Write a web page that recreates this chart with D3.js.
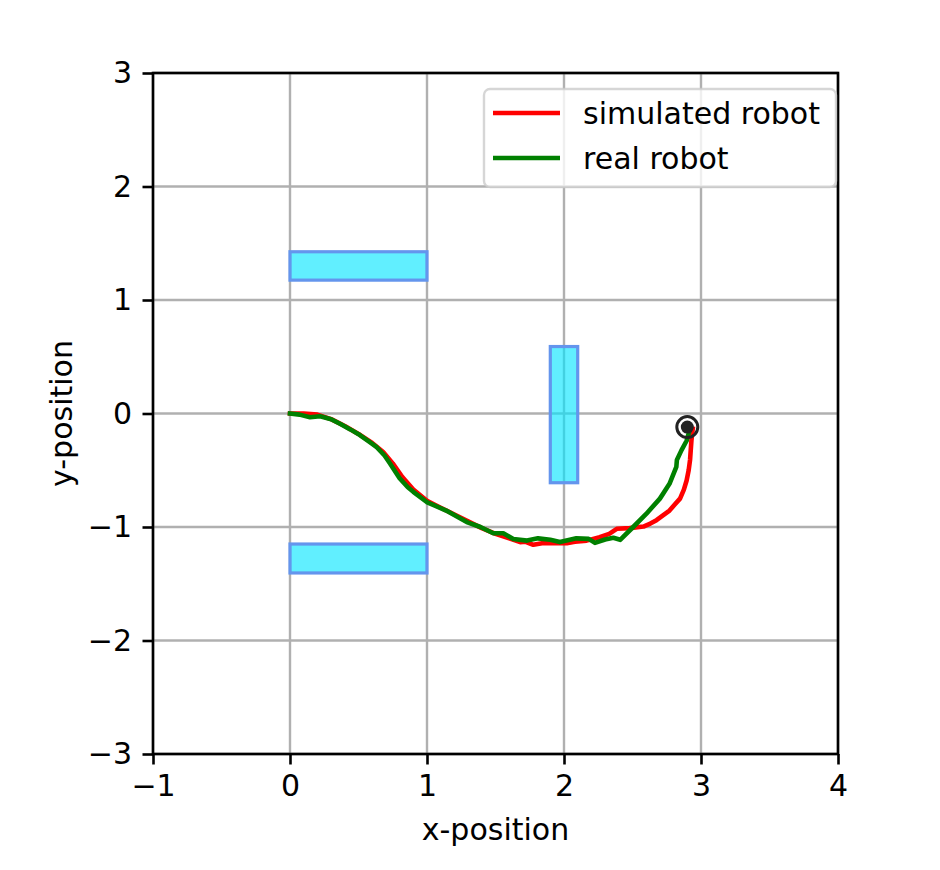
<!DOCTYPE html>
<html>
<head>
<meta charset="utf-8">
<script src="https://cdn.jsdelivr.net/npm/d3@7"></script>
<style>
html,body{margin:0;padding:0;background:#fff;}
svg{display:block;font-family:"DejaVu Sans",sans-serif;}
</style>
</head>
<body>
<svg id="chart" width="940" height="870"></svg>
<script>
// ---- data ----
const xTicks = [-1, 0, 1, 2, 3, 4];
const yTicks = [-3, -2, -1, 0, 1, 2, 3];
const seriesNames = ["simulated robot", "real robot"];
const simulated = [[0,0],[0.1,0.0],[0.2,-0.01],[0.3,-0.05],[0.4,-0.11],[0.5,-0.18],[0.6,-0.26],[0.68,-0.34],[0.75,-0.44],[0.82,-0.56],[0.9,-0.67],[1.0,-0.77],[1.1,-0.83],[1.2,-0.89],[1.3,-0.95],[1.4,-1.01],[1.5,-1.06],[1.6,-1.1],[1.68,-1.133],[1.72,-1.13],[1.776,-1.157],[1.85,-1.14],[1.9,-1.143],[1.96,-1.14],[2.02,-1.143],[2.08,-1.13],[2.165,-1.12],[2.26,-1.09],[2.33,-1.06],[2.385,-1.016],[2.48,-1.01],[2.58,-0.996],[2.63,-0.97],[2.675,-0.94],[2.72,-0.9],[2.77,-0.855],[2.81,-0.8],[2.847,-0.75],[2.875,-0.67],[2.895,-0.59],[2.91,-0.5],[2.92,-0.41],[2.93,-0.24],[2.935,-0.18],[2.94,-0.135]];
const real = [[0,0],[0.07,-0.01],[0.146,-0.033],[0.22,-0.024],[0.3,-0.05],[0.365,-0.09],[0.44,-0.14],[0.51,-0.19],[0.58,-0.25],[0.633,-0.297],[0.69,-0.37],[0.73,-0.44],[0.8,-0.57],[0.86,-0.65],[0.9,-0.69],[0.998,-0.78],[1.14,-0.855],[1.29,-0.957],[1.39,-1.0],[1.484,-1.055],[1.557,-1.055],[1.63,-1.105],[1.73,-1.12],[1.81,-1.10],[1.9,-1.113],[1.97,-1.133],[2.09,-1.10],[2.18,-1.105],[2.226,-1.14],[2.3,-1.11],[2.36,-1.095],[2.41,-1.113],[2.505,-1.0],[2.6,-0.885],[2.7,-0.75],[2.77,-0.62],[2.82,-0.47],[2.824,-0.41],[2.857,-0.325],[2.895,-0.24],[2.92,-0.135]];
// obstacles: [x0, y0, x1, y1]
const obstacles = [[0,1.175,1,1.425],[0,-1.405,1,-1.15],[1.9,-0.61,2.1,0.59]];
const target = [2.9, -0.12];

// ---- layout ----
const L = 153, R = 838, T = 73, B = 754;
const svg = d3.select("#chart");
const x = d3.scaleLinear().domain([-1, 4]).range([L, R]);
const y = d3.scaleLinear().domain([-3, 3]).range([B, T]);
const fmt = d => (d < 0 ? "\u2212" + Math.abs(d) : "" + d);

// grid
const grid = svg.append("g");
grid.selectAll("line.gx").data(xTicks).join("line")
  .attr("x1", d => x(d)).attr("x2", d => x(d)).attr("y1", T).attr("y2", B)
  .attr("stroke", "#b0b0b0").attr("stroke-width", 2.4);
grid.selectAll("line.gy").data(yTicks).join("line")
  .attr("y1", d => y(d)).attr("y2", d => y(d)).attr("x1", L).attr("x2", R)
  .attr("stroke", "#b0b0b0").attr("stroke-width", 2.4);

// obstacles
svg.append("g").selectAll("rect").data(obstacles).join("rect")
  .attr("x", d => x(d[0])).attr("y", d => y(d[3]))
  .attr("width", d => x(d[2]) - x(d[0])).attr("height", d => y(d[1]) - y(d[3]))
  .attr("fill", "#00e5ff").attr("fill-opacity", 0.62)
  .attr("stroke", "#6495ED").attr("stroke-width", 3.2);

// lines
const line = d3.line().x(d => x(d[0])).y(d => y(d[1]));
svg.append("path").datum(simulated).attr("d", line)
  .attr("fill", "none").attr("stroke", "#ff0000").attr("stroke-width", 4.6)
  .attr("stroke-linejoin", "round").attr("stroke-linecap", "square");
svg.append("path").datum(real).attr("d", line)
  .attr("fill", "none").attr("stroke", "#008000").attr("stroke-width", 4.6)
  .attr("stroke-linejoin", "round").attr("stroke-linecap", "square");

// target
svg.append("circle").attr("cx", x(target[0])).attr("cy", y(target[1])).attr("r", 10.5)
  .attr("fill", "none").attr("stroke", "#222").attr("stroke-width", 3);
svg.append("circle").attr("cx", x(target[0])).attr("cy", y(target[1])).attr("r", 6.5)
  .attr("fill", "#222");

// axes
const xAxis = d3.axisBottom(x).tickValues(xTicks).tickFormat(fmt).tickSize(10.5).tickPadding(10.5);
const yAxis = d3.axisLeft(y).tickValues(yTicks).tickFormat(fmt).tickSize(10.5).tickPadding(10.5);
const gx = svg.append("g").attr("transform", `translate(0,${B})`).call(xAxis);
const gy = svg.append("g").attr("transform", `translate(${L},0)`).call(yAxis);
[gx, gy].forEach(g => {
  g.select(".domain").remove();
  g.selectAll(".tick line").attr("stroke", "#000").attr("stroke-width", 2.6);
  g.selectAll(".tick text").attr("fill", "#000").style("font-size", "30px").style("font-family", "DejaVu Sans");
});

// spines
svg.append("rect").attr("x", L).attr("y", T).attr("width", R - L).attr("height", B - T)
  .attr("fill", "none").attr("stroke", "#000").attr("stroke-width", 2.6);

// axis labels
svg.append("text").attr("x", (L + R) / 2).attr("y", 840).attr("text-anchor", "middle")
  .style("font-size", "30px").text("x-position");
svg.append("text").attr("transform", `translate(72,${(T + B) / 2}) rotate(-90)`).attr("text-anchor", "middle")
  .style("font-size", "30px").text("y-position");

// legend
const lg = svg.append("g");
lg.append("rect").attr("x", 484).attr("y", 89).attr("width", 352).attr("height", 98)
  .attr("rx", 6).attr("fill", "#fff").attr("fill-opacity", 0.8)
  .attr("stroke", "#cccccc").attr("stroke-opacity", 0.8).attr("stroke-width", 2.4);
const colors = ["#ff0000", "#008000"];
seriesNames.forEach((name, i) => {
  const cy = 113 + i * 45;
  lg.append("line").attr("x1", 493).attr("x2", 560).attr("y1", cy).attr("y2", cy)
    .attr("stroke", colors[i]).attr("stroke-width", 4.6);
  lg.append("text").attr("x", 583).attr("y", cy).attr("dy", "0.35em")
    .style("font-size", "30px").text(name);
});
</script>
</body>
</html>
